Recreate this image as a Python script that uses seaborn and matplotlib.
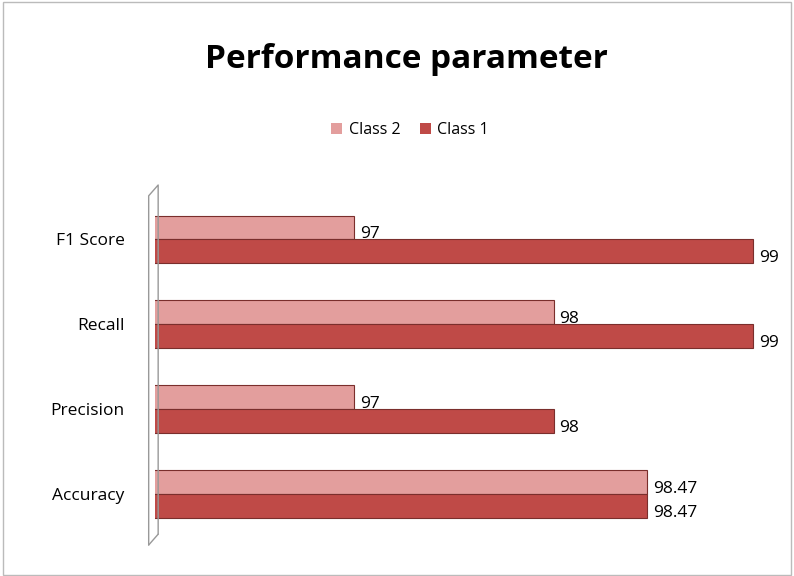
import numpy as np
import matplotlib.pyplot as plt
import seaborn as sns
import pandas as pd

metrics = ["F1 Score", "Recall", "Precision", "Accuracy"]
class2 = [97, 98, 97, 98.47]
class1 = [99, 99, 98, 98.47]
classes = ["Class 2", "Class 1"]

df = pd.DataFrame({
    "metric": metrics * 2,
    "value": class2 + class1,
    "cls": ["Class 2"] * 4 + ["Class 1"] * 4,
})

sns.set_theme(style="white")
plt.rcParams["font.family"] = ["Open Sans", "DejaVu Sans"]
plt.rcParams["text.color"] = "black"
plt.rcParams["ytick.color"] = "black"

fig = plt.figure(figsize=(7.94, 5.76), dpi=100)
ax = fig.add_axes([155 / 794, 31 / 576, (787 - 155) / 794, 360 / 576])

palette = {"Class 2": "#E39E9D", "Class 1": "#BF4A47"}
sns.barplot(data=df, y="metric", x="value", hue="cls", hue_order=classes,
            order=metrics, palette=palette, orient="h", width=0.56,
            saturation=1, edgecolor="#7A2E2C", linewidth=0.8, ax=ax,
            legend=True)

ax.set_xlim(96, 99.17)
ax.set_ylim(3.6, -0.64)
ax.set_xlabel("")
ax.set_ylabel("")
ax.set_xticks([])
ax.tick_params(axis="y", length=0, pad=22, labelsize=12.5)
for s in ["top", "right", "bottom", "left"]:
    ax.spines[s].set_visible(False)

# 3D-style wall on the left
ax.plot([-0.01, -0.01, 0.005, 0.005], [0.0, 0.97, 1.0, 0.03], color="#999999",
        lw=1, transform=ax.transAxes, clip_on=False)
ax.plot([-0.01, 0.005], [0.0, 0.03], color="#999999", lw=1,
        transform=ax.transAxes, clip_on=False)

for cont in ax.containers:
    for bar in cont:
        w = bar.get_width()
        yc = bar.get_y() + bar.get_height() / 2
        ax.annotate(f"{w:g}", (w, yc), xytext=(4, -5), textcoords="offset points",
                    ha="left", va="center", fontsize=12.5, color="black")

leg = ax.legend(loc="center", bbox_to_anchor=(410 / 794, 1 - 130 / 576),
                bbox_transform=fig.transFigure, ncol=2, frameon=False,
                fontsize=11.5, handlelength=0.7, handleheight=0.7,
                columnspacing=1.2, handletextpad=0.4)
for h in leg.legend_handles:
    h.set_edgecolor("none")

fig.suptitle("Performance parameter", x=406 / 794, y=1 - 60 / 576,
             va="center", fontsize=24, fontweight="bold", color="black")

fig.patches.append(plt.Rectangle((0.004, 0.002), 0.992, 0.994, fill=False,
                                 edgecolor="#BBBBBB", lw=1,
                                 transform=fig.transFigure))

fig.savefig("out.png", dpi=100)
